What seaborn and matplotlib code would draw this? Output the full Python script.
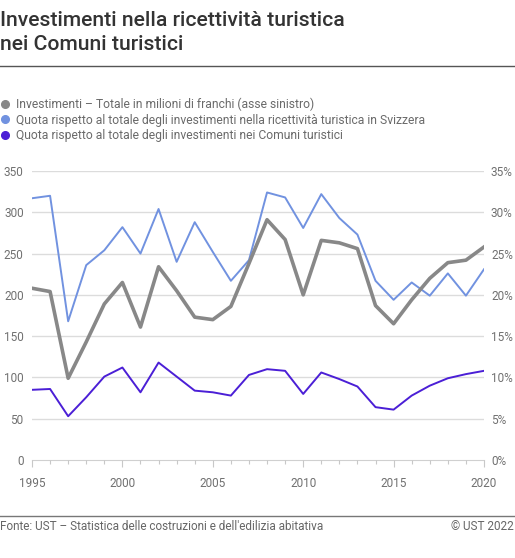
import matplotlib
matplotlib.use("Agg")
import matplotlib.pyplot as plt
from matplotlib.lines import Line2D
from matplotlib.ticker import MultipleLocator, FuncFormatter
import seaborn as sns
import pandas as pd

years = list(range(1995, 2021))
investimenti = [208, 204, 99, 143, 189, 215, 161, 234, 205, 173, 170, 186, 238,
                291, 267, 200, 266, 263, 256, 187, 165, 194, 220, 239, 242, 258]
quota_svizzera = [31.7, 32.0, 16.8, 23.6, 25.4, 28.2, 25.0, 30.4, 24.0, 28.8, 25.2, 21.7, 24.2,
                  32.4, 31.8, 28.1, 32.2, 29.3, 27.3, 21.7, 19.4, 21.5, 19.9, 22.6, 19.9, 23.1]
quota_comuni = [8.5, 8.6, 5.3, 7.6, 10.1, 11.2, 8.2, 11.8, 10.1, 8.4, 8.2, 7.8, 10.3,
                11.0, 10.8, 8.0, 10.6, 9.8, 8.9, 6.4, 6.1, 7.8, 9.0, 9.9, 10.4, 10.8]
labels = ["Investimenti – Totale in milioni di franchi (asse sinistro)",
          "Quota rispetto al totale degli investimenti nella ricettività turistica in Svizzera",
          "Quota rispetto al totale degli investimenti nei Comuni turistici"]
colors = ["#888888", "#7192e0", "#4b1fd6"]

title = "Investimenti nella ricettività turistica\nnei Comuni turistici"
source = "Fonte: UST – Statistica delle costruzioni e dell'edilizia abitativa"
copyright_txt = "© UST 2022"

df = pd.DataFrame({"anno": years, "inv": investimenti,
                   "qs": quota_svizzera, "qc": quota_comuni})

W, H = 515, 558
fig = plt.figure(figsize=(W / 100, H / 100), dpi=100)
plt.rcParams["font.family"] = ["Roboto", "DejaVu Sans"]

def fx(px):
    return px / W

def fy(py):
    return 1 - py / H

ax = fig.add_axes([fx(32), fy(460), fx(484) - fx(32), fy(171) - fy(460)])
ax2 = ax.twinx()

sns.lineplot(data=df, x="anno", y="inv", ax=ax, color=colors[0], linewidth=2.6, zorder=3)
sns.lineplot(data=df, x="anno", y="qs", ax=ax2, color=colors[1], linewidth=1.4, zorder=3)
sns.lineplot(data=df, x="anno", y="qc", ax=ax2, color=colors[2], linewidth=1.4, zorder=3)

ax.set_zorder(2)
ax.patch.set_visible(False)
ax2.set_zorder(1)

ax.set_xlim(1995, 2020)
ax.set_ylim(0, 350)
ax2.set_ylim(0, 35)
ax.yaxis.set_major_locator(MultipleLocator(50))
ax2.yaxis.set_major_locator(MultipleLocator(5))
ax2.yaxis.set_major_formatter(FuncFormatter(lambda v, p: f"{int(v)}%"))
ax.xaxis.set_major_locator(MultipleLocator(5))
ax.xaxis.set_minor_locator(MultipleLocator(1))

for a in (ax, ax2):
    a.set_xlabel("")
    a.set_ylabel("")
    for s in ("top", "left", "right", "bottom"):
        a.spines[s].set_visible(False)

ax.spines["bottom"].set_visible(True)
ax.spines["bottom"].set_color("#d0d0d0")
ax.spines["bottom"].set_zorder(0)

ax2.grid(False)
ax.grid(False)
for v in range(50, 351, 50):
    ax2.axhline(v / 10, color="#dcdcdc", linewidth=1.0, zorder=0)

tick_color = "#707070"
ax.tick_params(axis="y", length=0, pad=6, labelsize=8.5, labelcolor=tick_color)
ax2.tick_params(axis="y", length=0, pad=5, labelsize=8.5, labelcolor=tick_color)
ax.tick_params(axis="x", which="major", length=5, width=0.8, color="#c8c8c8",
               pad=7, labelsize=8.5, labelcolor=tick_color)
ax.tick_params(axis="x", which="minor", length=3, width=0.8, color="#c8c8c8")

# Title
fig.text(fx(0), fy(11), title, ha="left", va="top", fontsize=15.2,
         fontweight="medium", color="#333333", linespacing=1.3)
fig.add_artist(Line2D([0, 1], [fy(66), fy(66)], transform=fig.transFigure,
                      color="#555555", linewidth=1.0))

# Legend
handles = [Line2D([], [], marker="o", linestyle="none", markersize=5.5,
                  markerfacecolor=c, markeredgecolor=c) for c in colors]
leg = fig.legend(handles, labels, loc="upper left", bbox_to_anchor=(fx(0), fy(97.5)),
                 frameon=False, fontsize=8.7, handlelength=0.8, handletextpad=0.55,
                 labelspacing=0.22, borderaxespad=0, borderpad=0)
for t in leg.get_texts():
    t.set_color("#6a6a6a")

# Footer
fig.add_artist(Line2D([0, 1], [fy(516), fy(516)], transform=fig.transFigure,
                      color="#777777", linewidth=1.0))
fig.text(fx(0), fy(527), source, ha="left", va="center", fontsize=8.5, color="#666666")
fig.text(fx(514), fy(527), copyright_txt, ha="right", va="center", fontsize=8.5, color="#666666")

fig.savefig("out.png", dpi=100)
